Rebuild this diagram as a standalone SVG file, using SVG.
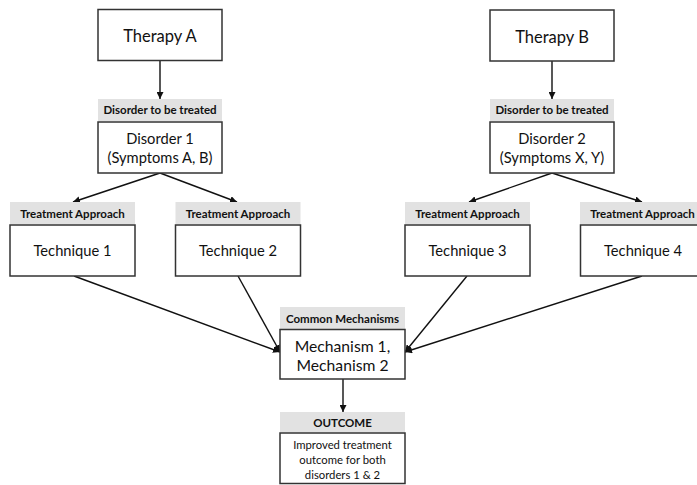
<svg xmlns="http://www.w3.org/2000/svg" width="697" height="485" viewBox="0 0 697 485">
<defs>
<style>
.box{fill:#fff;stroke:#333;stroke-width:1.5}
.band{fill:#e2e2e2}
.t{font-family:Lato,"Open Sans","Liberation Sans",sans-serif;fill:#111;text-anchor:middle}
.big{font-size:16.5px}
.mid{font-size:14.7px}
.mech{font-size:15.7px}
.lab{font-size:11.5px;font-weight:bold}
.small{font-size:11.3px}
.conn{stroke:#111;stroke-width:1.4;fill:none;marker-end:url(#ah)}
</style>
<marker id="ah" viewBox="0 0 10 10" refX="10" refY="5" markerWidth="7" markerHeight="7" markerUnits="userSpaceOnUse" orient="auto">
<path d="M0,0 L10,5 L0,10 z" fill="#111"/>
</marker>
</defs>
<rect width="697" height="485" fill="#fff"/>
<g id="connectors">
<line class="conn" x1="160" y1="60" x2="160" y2="99"/>
<line class="conn" x1="552" y1="61" x2="552" y2="99"/>
<line class="conn" x1="160" y1="173" x2="73" y2="202"/>
<line class="conn" x1="160" y1="173" x2="237" y2="202"/>
<line class="conn" x1="552" y1="173" x2="469" y2="202"/>
<line class="conn" x1="552" y1="173" x2="642" y2="202"/>
<line class="conn" x1="74" y1="276" x2="280" y2="352"/>
<line class="conn" x1="238" y1="276" x2="280" y2="352"/>
<line class="conn" x1="467" y1="276" x2="405" y2="352"/>
<line class="conn" x1="642" y1="276" x2="405" y2="352"/>
<line class="conn" x1="343" y1="379" x2="343" y2="412"/>
</g>
<g id="therapyA">
<rect class="box" x="98" y="9.5" width="124" height="51"/>
<text class="t big" x="160" y="42">Therapy A</text>
</g>
<g id="therapyB">
<rect class="box" x="490" y="10" width="124" height="51"/>
<text class="t big" x="552" y="42.5">Therapy B</text>
</g>
<g id="disorder1">
<rect class="band" x="98" y="99" width="124" height="22"/>
<text class="t lab" x="160" y="114">Disorder to be treated</text>
<rect class="box" x="98" y="122" width="124" height="51"/>
<text class="t mid" x="160" y="143.5">Disorder 1</text>
<text class="t mid" x="160" y="162.5">(Symptoms A, B)</text>
</g>
<g id="disorder2">
<rect class="band" x="490" y="99" width="124" height="22"/>
<text class="t lab" x="552" y="114">Disorder to be treated</text>
<rect class="box" x="490" y="122" width="124" height="51"/>
<text class="t mid" x="552" y="143.5">Disorder 2</text>
<text class="t mid" x="552" y="162.5">(Symptoms X, Y)</text>
</g>
<g id="technique1">
<rect class="band" x="10" y="202" width="125" height="22"/>
<text class="t lab" x="72.5" y="218">Treatment Approach</text>
<rect class="box" x="10" y="225" width="125" height="51"/>
<text class="t mid" x="72.5" y="256">Technique 1</text>
</g>
<g id="technique2">
<rect class="band" x="175.5" y="202" width="125" height="22"/>
<text class="t lab" x="238" y="218">Treatment Approach</text>
<rect class="box" x="175.5" y="225" width="125" height="51"/>
<text class="t mid" x="238" y="256">Technique 2</text>
</g>
<g id="technique3">
<rect class="band" x="405" y="202" width="125" height="22"/>
<text class="t lab" x="467.5" y="218">Treatment Approach</text>
<rect class="box" x="405" y="225" width="125" height="51"/>
<text class="t mid" x="467.5" y="256">Technique 3</text>
</g>
<g id="technique4">
<rect class="band" x="580" y="202" width="125" height="22"/>
<text class="t lab" x="642.5" y="218">Treatment Approach</text>
<rect class="box" x="580.5" y="225" width="125" height="51"/>
<text class="t mid" x="643" y="256">Technique 4</text>
</g>
<g id="mechanisms">
<rect class="band" x="280" y="307" width="125" height="22"/>
<text class="t lab" x="342.5" y="322.5">Common Mechanisms</text>
<rect class="box" x="280" y="329.5" width="125" height="49.5"/>
<text class="t mech" x="342.5" y="351.5">Mechanism 1,</text>
<text class="t mech" x="342.5" y="370.5">Mechanism 2</text>
</g>
<g id="outcome">
<rect class="band" x="280" y="412" width="125" height="20.5"/>
<text class="t lab" x="342.5" y="427">OUTCOME</text>
<rect class="box" x="280" y="433" width="125" height="50.5"/>
<text class="t small" x="342.5" y="449">Improved treatment</text>
<text class="t small" x="342.5" y="464">outcome for both</text>
<text class="t small" x="342.5" y="478.5">disorders 1 &amp; 2</text>
</g>
</svg>
